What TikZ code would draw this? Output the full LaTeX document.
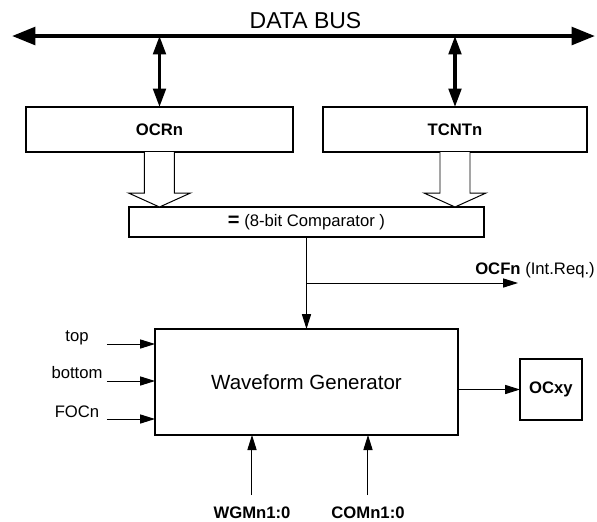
\documentclass[tikz,border=0pt]{standalone}
\usepackage{fontspec}
\setmainfont{Liberation Sans}
\usetikzlibrary{arrows.meta,calc}
\tikzset{
  box/.style={draw, line width=0.9pt, inner sep=0pt, outer sep=0pt, align=center},
  sig/.style={-{Triangle[length=9pt,width=5.5pt]}, line width=0.6pt},
  bus/.style={{Triangle[length=14pt,width=10.5pt]}-{Triangle[length=14pt,width=10.5pt]}, line width=2.4pt},
  busio/.style={{Triangle[length=11pt,width=7.5pt]}-{Triangle[length=11pt,width=7.5pt]}, line width=2pt},
  hollow/.style={draw, fill=white, line width=0.6pt, line join=miter},
  lbl/.style={inner sep=0pt, anchor=base},
}

\begin{document}
\begin{tikzpicture}[x=0.6pt,y=-0.6pt,font=\fontsize{10pt}{12pt}\selectfont]
  \useasboundingbox (0,0) rectangle (597,521);
  % data bus
  \coordinate (busL) at (12,36);
  \coordinate (busR) at (595,36);
  \draw[bus] (busL) -- (busR);
  \node[lbl,font=\fontsize{13.8pt}{16pt}\selectfont] (buslbl) at (305.5,28) {DATA BUS};
  % registers
  \node[box,minimum width=160.2pt,minimum height=27pt] (ocr) at (159.5,129.5) {\bfseries OCRn};
  \node[box,minimum width=158.4pt,minimum height=27pt] (tcnt) at (455,129.5) {\bfseries TCNTn};
  \draw[busio] (busL -| ocr.north) -- (ocr.north);
  \draw[busio] (busL -| tcnt.north) -- (tcnt.north);
  % comparator
  \node[box,minimum width=213pt,minimum height=18pt] (cmp) at (306.5,222) {{\bfseries\large =} (8-bit Comparator )};
  \coordinate (tipA) at (cmp.north -| ocr.south);
  \coordinate (tipB) at (cmp.north -| tcnt.south);
  \draw[hollow] ($(ocr.south)+(-15,0)$) -- ($(tipA)+(-15,-14)$) -- ($(tipA)+(-31,-14)$) -- (tipA)
    -- ($(tipA)+(31,-14)$) -- ($(tipA)+(15,-14)$) -- ($(ocr.south)+(15,0)$);
  \draw[hollow] ($(tcnt.south)+(-15,0)$) -- ($(tipB)+(-15,-14)$) -- ($(tipB)+(-31,-14)$) -- (tipB)
    -- ($(tipB)+(31,-14)$) -- ($(tipB)+(15,-14)$) -- ($(tcnt.south)+(15,0)$);
  % waveform generator
  \node[box,minimum width=181.8pt,minimum height=63.6pt,font=\fontsize{12.3pt}{14pt}\selectfont] (wg) at (306.5,382) {Waveform Generator};
  \node[box,minimum width=37.2pt,minimum height=36.6pt] (ocxy) at (551,389.5) {\bfseries OCxy};
  \draw[sig] (cmp.south) -- (wg.north);
  \coordinate (br) at ($(cmp.south)!0.5!(wg.north)$);
  \coordinate (ocfn) at (518,283);
  \draw[sig] (br) -- (br -| ocfn);
  \node[lbl] (ocfnlbl) at (535,274) {{\bfseries OCFn} (Int.Req.)};
  \draw[sig] (wg.east |- ocxy.west) -- (ocxy.west);
  % inputs on the left
  \coordinate (intop) at (107,344);
  \coordinate (inbot) at (107,381);
  \coordinate (infoc) at (107,419);
  \draw[sig] (intop) -- (intop -| wg.west);
  \draw[sig] (inbot) -- (inbot -| wg.west);
  \draw[sig] (infoc) -- (infoc -| wg.west);
  \node[lbl] (toplbl) at (77,341) {top};
  \node[lbl] (botlbl) at (77,378) {bottom};
  \node[lbl] (foclbl) at (77,417) {FOCn};
  % mode inputs
  \coordinate (wgm) at (252,495);
  \coordinate (com) at (368,495);
  \draw[sig] (wgm) -- (wgm |- wg.south);
  \draw[sig] (com) -- (com |- wg.south);
  \node[lbl] (wgmlbl) at (252,518) {\bfseries WGMn1:0};
  \node[lbl] (comlbl) at (368,518) {\bfseries COMn1:0};
\end{tikzpicture}
\end{document}
